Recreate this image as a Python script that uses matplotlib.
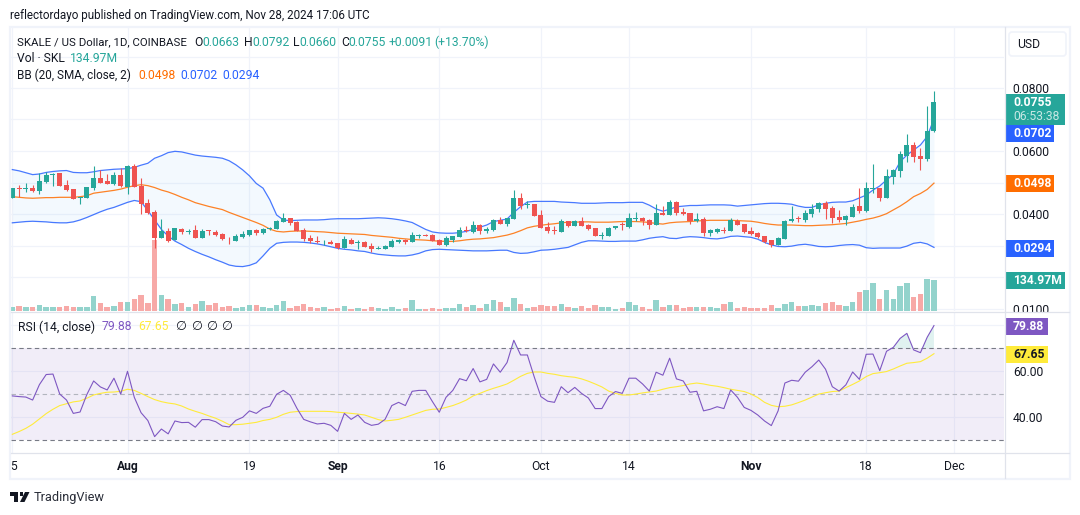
import matplotlib
matplotlib.use("Agg")

import matplotlib.pyplot as plt
import numpy as np
from matplotlib.patches import FancyBboxPatch, Polygon, Rectangle

plt.rcParams["font.family"] = ["Roboto", "DejaVu Sans"]

# OHLC and Bollinger values, in 0.0001 price steps (Jul 15 to Nov 28)
PRICE_STEP = 0.0001

opens = [452, 482, 480, 483, 473, 503, 525, 530, 492, 478,
         451, 452, 483, 514, 505, 494, 524, 487, 552, 490,
         434, 406, 325, 346, 316, 353, 343, 349, 325, 348,
         344, 337, 322, 315, 327, 332, 349, 340, 352, 353,
         376, 387, 375, 348, 325, 314, 313, 311, 308, 292,
         318, 307, 311, 298, 290, 290, 295, 311, 318, 311,
         330, 333, 333, 318, 302, 318, 328, 348, 343, 364,
         346, 349, 381, 368, 385, 451, 428, 432, 397, 359,
         349, 344, 378, 362, 378, 365, 356, 330, 331, 354,
         367, 358, 383, 387, 381, 366, 404, 398, 437, 406,
         402, 377, 384, 340, 343, 350, 347, 378, 368, 346,
         340, 330, 318, 302, 321, 378, 387, 381, 400, 416,
         435, 419, 391, 381, 391, 425, 410, 479, 483, 451,
         518, 537, 584, 619, 584, 575, 663]

highs = [482, 492, 500, 492, 529, 532, 529, 530, 508, 479,
         453, 486, 551, 541, 527, 532, 545, 556, 558, 513,
         447, 413, 383, 355, 355, 355, 351, 364, 351, 349,
         348, 341, 326, 335, 345, 349, 353, 355, 358, 381,
         403, 387, 378, 355, 333, 329, 318, 318, 308, 330,
         324, 316, 314, 308, 300, 301, 320, 322, 320, 343,
         338, 337, 337, 321, 329, 330, 360, 362, 378, 367,
         360, 383, 391, 388, 476, 467, 442, 432, 413, 375,
         363, 383, 378, 380, 391, 367, 357, 342, 360, 363,
         374, 404, 405, 390, 384, 431, 425, 444, 441, 419,
         403, 403, 391, 352, 356, 359, 387, 384, 368, 359,
         343, 330, 318, 327, 381, 425, 394, 413, 432, 438,
         441, 425, 413, 397, 432, 483, 502, 559, 483, 543,
         543, 600, 654, 629, 610, 743, 792]

lows = [452, 455, 471, 471, 463, 499, 489, 490, 473, 448,
        433, 452, 476, 498, 495, 492, 487, 463, 487, 401,
        399, 293, 325, 312, 316, 337, 337, 325, 325, 333,
        330, 319, 305, 315, 325, 330, 333, 337, 349, 352,
        376, 365, 346, 314, 309, 309, 301, 305, 289, 292,
        305, 289, 294, 279, 289, 289, 294, 308, 306, 311,
        324, 330, 313, 302, 298, 312, 327, 343, 341, 338,
        341, 347, 368, 362, 384, 417, 419, 395, 355, 341,
        335, 344, 359, 362, 362, 349, 330, 321, 331, 352,
        349, 356, 378, 366, 352, 366, 397, 398, 398, 398,
        369, 375, 331, 331, 340, 340, 346, 365, 341, 333,
        324, 309, 295, 302, 321, 375, 375, 375, 391, 406,
        384, 371, 375, 365, 391, 403, 406, 467, 441, 451,
        495, 518, 565, 565, 540, 568, 660]

closes = [482, 479, 483, 473, 504, 524, 528, 490, 476, 449,
          453, 486, 514, 499, 495, 524, 489, 552, 487, 433,
          404, 325, 345, 314, 355, 343, 346, 325, 346, 345,
          333, 321, 320, 330, 337, 348, 340, 352, 355, 378,
          387, 371, 347, 321, 314, 311, 315, 306, 291, 321,
          305, 311, 295, 289, 292, 298, 314, 319, 311, 333,
          332, 330, 313, 303, 323, 330, 349, 346, 364, 346,
          351, 381, 368, 387, 451, 425, 431, 395, 357, 346,
          347, 378, 362, 378, 363, 352, 331, 332, 355, 362,
          365, 387, 386, 378, 366, 403, 397, 437, 402, 400,
          378, 384, 340, 349, 352, 347, 381, 365, 343, 337,
          328, 312, 302, 324, 378, 384, 384, 403, 416, 435,
          416, 387, 381, 394, 422, 410, 483, 484, 451, 521,
          540, 591, 619, 581, 575, 664, 755]

volumes = [17.4, 21.8, 17.4, 17.4, 26.1, 17.4, 17.4, 17.4, 21.8, 17.4,
           17.4, 17.4, 65.3, 34.8, 17.4, 21.8, 39.2, 39.2, 52.2, 69.7,
           34.8, 309.0, 69.7, 52.2, 30.5, 34.8, 17.4, 30.5, 43.5, 26.1,
           34.8, 17.4, 21.8, 13.1, 17.4, 26.1, 26.1, 17.4, 13.1, 26.1,
           43.5, 13.1, 21.8, 30.5, 17.4, 13.1, 17.4, 8.7, 13.1, 21.8,
           8.7, 13.1, 8.7, 17.4, 13.1, 8.7, 17.4, 8.7, 13.1, 47.9,
           8.7, 8.7, 13.1, 8.7, 13.1, 13.1, 30.5, 17.4, 26.1, 13.1,
           30.5, 47.9, 39.2, 17.4, 56.6, 30.5, 13.1, 17.4, 26.1, 21.8,
           21.8, 30.5, 17.4, 13.1, 21.8, 13.1, 26.1, 17.4, 17.4, 8.7,
           13.1, 39.2, 26.1, 17.4, 8.7, 47.9, 17.4, 26.1, 26.1, 13.1,
           17.4, 17.4, 17.4, 17.4, 13.1, 30.5, 39.2, 13.1, 17.4, 13.1,
           13.1, 13.1, 26.1, 13.1, 30.5, 39.2, 21.8, 21.8, 26.1, 21.8,
           34.8, 39.2, 26.1, 21.8, 39.2, 82.7, 91.4, 121.9, 52.2, 91.4,
           52.2, 108.8, 121.9, 60.9, 74.0, 139.3, 134.97]

bb_upper = [541, 537, 531, 525, 527, 532, 535, 537, 538, 532,
            531, 531, 534, 538, 540, 542, 543, 544, 548, 555,
            561, 577, 585, 595, 599, 597, 592, 587, 584, 582,
            580, 577, 569, 556, 540, 521, 497, 482, 445, 397,
            381, 379, 380, 381, 381, 381, 382, 384, 385, 385,
            385, 385, 386, 387, 388, 387, 385, 382, 378, 373,
            362, 351, 343, 340, 339, 339, 341, 345, 351, 358,
            365, 376, 380, 384, 405, 423, 438, 440, 440, 440,
            440, 438, 437, 436, 434, 434, 434, 435, 436, 436,
            436, 437, 437, 437, 428, 416, 409, 415, 423, 425,
            427, 427, 428, 429, 429, 429, 428, 425, 427, 429,
            431, 433, 434, 434, 433, 431, 425, 421, 421, 429,
            434, 437, 438, 438, 442, 451, 460, 476, 489, 508,
            526, 566, 587, 603, 619, 646, 702]

bb_mid = [455, 453, 451, 450, 451, 452, 452, 453, 453, 453,
          455, 458, 466, 469, 472, 475, 479, 485, 490, 493,
          490, 484, 476, 470, 462, 453, 445, 436, 430, 424,
          419, 414, 405, 397, 389, 381, 373, 364, 352, 345,
          343, 345, 346, 346, 345, 344, 343, 341, 339, 338,
          337, 336, 335, 332, 330, 328, 326, 323, 321, 319,
          318, 317, 315, 314, 313, 313, 315, 318, 320, 321,
          323, 325, 329, 333, 339, 347, 356, 361, 364, 367,
          369, 372, 374, 374, 375, 375, 374, 374, 374, 375,
          376, 376, 376, 375, 373, 370, 368, 372, 374, 375,
          376, 378, 379, 380, 380, 380, 380, 379, 378, 377,
          374, 370, 367, 365, 365, 365, 364, 363, 363, 364,
          365, 366, 368, 370, 374, 378, 383, 387, 393, 401,
          413, 425, 439, 455, 465, 478, 498]

bb_lower = [372, 374, 376, 377, 376, 375, 373, 372, 372, 375,
            381, 389, 398, 407, 415, 421, 429, 437, 443, 439,
            411, 381, 351, 330, 314, 303, 291, 281, 272, 264,
            255, 247, 238, 234, 233, 237, 245, 267, 291, 307,
            310, 311, 311, 310, 308, 305, 301, 296, 291, 288,
            286, 283, 281, 276, 272, 270, 268, 267, 267, 270,
            275, 283, 287, 288, 287, 286, 285, 284, 283, 283,
            283, 284, 285, 285, 278, 275, 276, 280, 285, 286,
            288, 291, 294, 302, 310, 315, 315, 314, 313, 313,
            314, 314, 314, 318, 323, 326, 328, 323, 322, 326,
            328, 327, 325, 322, 321, 324, 329, 330, 328, 326,
            320, 310, 302, 297, 296, 298, 302, 304, 301, 297,
            296, 297, 300, 302, 303, 301, 293, 291, 292, 292,
            292, 292, 298, 307, 310, 305, 294]

rsi = [49.3, 49.0, 48.8, 47.5, 54.2, 58.6, 58.8, 50.1, 47.5, 41.7,
       42.3, 49.9, 55.8, 53.2, 51.9, 57.0, 50.1, 60.0, 48.7, 42.0,
       38.6, 31.6, 34.9, 32.8, 38.4, 37.7, 37.8, 35.7, 39.0, 39.0,
       38.1, 36.2, 35.8, 38.7, 40.0, 42.8, 41.7, 43.9, 44.8, 50.0,
       51.7, 49.6, 43.9, 39.1, 38.0, 37.1, 37.4, 36.5, 33.9, 41.7,
       39.1, 41.0, 37.8, 36.5, 37.0, 39.1, 45.1, 46.5, 45.1, 51.3,
       51.7, 51.7, 46.8, 42.2, 48.7, 51.7, 56.8, 55.9, 61.2, 55.4,
       56.5, 63.2, 59.6, 63.8, 73.5, 67.1, 67.1, 57.7, 49.0, 47.0,
       46.5, 53.3, 50.7, 53.0, 50.4, 48.4, 43.8, 43.8, 49.0, 51.2,
       50.4, 57.0, 57.0, 54.5, 51.4, 59.6, 58.3, 65.7, 56.7, 55.8,
       50.9, 51.3, 42.8, 43.5, 44.6, 43.8, 51.9, 48.7, 44.3, 43.0,
       41.0, 38.4, 36.4, 42.8, 54.9, 56.1, 55.7, 59.6, 62.0, 64.9,
       60.9, 53.3, 51.4, 54.1, 59.7, 56.5, 67.4, 67.5, 60.3, 68.7,
       70.4, 74.3, 76.5, 69.3, 68.1, 74.8, 79.88]

rsi_ma = [32.6, 33.8, 35.2, 37.0, 39.3, 41.6, 43.5, 45.1, 45.9, 46.7,
          47.1, 48.3, 49.7, 50.4, 50.9, 51.0, 51.3, 52.2, 51.7, 50.4,
          49.0, 47.7, 46.8, 46.2, 45.8, 44.9, 43.6, 42.6, 41.7, 40.6,
          39.6, 38.3, 36.8, 36.8, 37.0, 37.4, 37.8, 38.6, 39.1, 40.0,
          41.3, 42.2, 42.5, 42.6, 42.6, 42.6, 42.6, 42.5, 42.2, 42.0,
          41.7, 41.4, 41.0, 40.0, 39.0, 38.4, 38.7, 39.1, 40.0, 41.0,
          42.0, 43.0, 43.5, 43.6, 44.3, 45.1, 46.2, 47.5, 49.3, 50.4,
          51.6, 52.6, 53.5, 54.5, 56.1, 57.8, 59.1, 59.7, 59.7, 59.1,
          58.7, 58.1, 57.7, 57.4, 56.7, 55.7, 54.5, 53.2, 51.4, 50.4,
          49.7, 49.7, 50.1, 50.6, 51.0, 51.4, 52.2, 52.9, 53.3, 53.8,
          54.5, 54.9, 54.5, 53.9, 53.5, 52.9, 52.2, 51.7, 51.2, 50.1,
          48.6, 46.5, 45.2, 44.6, 44.8, 45.4, 46.4, 47.5, 48.8, 50.1,
          50.7, 51.2, 51.4, 52.9, 54.3, 55.8, 57.7, 59.0, 59.4, 59.9,
          61.0, 62.3, 63.5, 63.8, 64.2, 65.7, 67.65]

# day offsets from Jul 15 and the labels on the date axis
date_ticks = [0, 17, 35, 48, 63, 78, 91, 109, 126, 139]
date_labels = ["15", "Aug", "19", "Sep", "16", "Oct", "14", "Nov", "18", "Dec"]
month_labels = ["Aug", "Sep", "Nov"]

price_ticks = [0.01, 0.02, 0.03, 0.04, 0.05, 0.06, 0.07, 0.08, 0.09]
price_labels = ["0.0100", "", "", "0.0400", "", "0.0600", "", "0.0800", ""]
rsi_ticks = [40, 60, 80]
rsi_labels = ["40.00", "60.00", ""]

GREEN = "#26a69a"
RED = "#ef5350"
BLUE = "#2962ff"
ORANGE = "#ff6d00"
PURPLE = "#7e57c2"
YELLOW = "#ffeb3b"
TEXT = "#131722"
GRID = "#f0f3fa"
BORDER = "#e0e3eb"

W, H = 1080, 515
LEFT, RIGHT = 11, 1004
PRICE_TOP, PRICE_BOTTOM = 27, 311
RSI_TOP, RSI_BOTTOM = 312, 452.5


def pane_rect(top, bottom):
    return [LEFT / W, 1 - bottom / H, (RIGHT - LEFT) / W, (bottom - top) / H]


def main():
    o = np.array(opens) * PRICE_STEP
    h = np.array(highs) * PRICE_STEP
    l = np.array(lows) * PRICE_STEP
    c = np.array(closes) * PRICE_STEP
    vol = np.array(volumes)
    x = np.arange(len(c))
    up = c >= o
    colors = [GREEN if u else RED for u in up]
    vol_colors = ["#93d3cc" if u else "#f7a9a7" for u in up]

    fig = plt.figure(figsize=(W / 100, H / 100), dpi=100, facecolor="white")

    # x range: one day is 6.777 px, Jul 15 sits at 12.3 px
    xlim = ((LEFT - 12.3) / 6.777, (RIGHT - 12.3) / 6.777)
    ylim = (0.08 - (PRICE_BOTTOM - 88) / 3150, 0.08 + (88 - PRICE_TOP) / 3150)

    # grid and price labels sit on their own axes, under the volume bars
    ax_grid = fig.add_axes(pane_rect(PRICE_TOP, PRICE_BOTTOM), zorder=0)
    ax_grid.set_xlim(xlim)
    ax_grid.set_ylim(ylim)
    ax_grid.set_xticks(date_ticks)
    ax_grid.set_xticklabels([])
    ax_grid.set_yticks(price_ticks)
    ax_grid.set_yticklabels(price_labels, fontsize=8.7, color=TEXT)
    ax_grid.yaxis.tick_right()
    ax_grid.tick_params(length=0, pad=6.3)
    ax_grid.grid(True, color=GRID, linewidth=0.9)
    ax_grid.set_axisbelow(True)
    for spine in ax_grid.spines.values():
        spine.set_visible(False)

    # volume bars
    ax_vol = fig.add_axes(pane_rect(PRICE_TOP, PRICE_BOTTOM), zorder=1)
    ax_vol.patch.set_alpha(0)
    ax_vol.set_xlim(xlim)
    ax_vol.set_ylim(0, 134.97 * (PRICE_BOTTOM - PRICE_TOP) / 31)
    ax_vol.bar(x, vol, width=0.8, color=vol_colors, linewidth=0)
    ax_vol.axis("off")

    # Bollinger bands and candles
    ax = fig.add_axes(pane_rect(PRICE_TOP, PRICE_BOTTOM), zorder=2)
    ax.patch.set_alpha(0)
    ax.set_xlim(xlim)
    ax.set_ylim(ylim)
    upper = np.array(bb_upper) * PRICE_STEP
    mid = np.array(bb_mid) * PRICE_STEP
    lower = np.array(bb_lower) * PRICE_STEP
    ax.fill_between(x, lower, upper, color="#2196f3", alpha=0.05, linewidth=0)
    ax.plot(x, upper, color=BLUE, linewidth=0.9, alpha=0.85)
    ax.plot(x, lower, color=BLUE, linewidth=0.9, alpha=0.85)
    ax.plot(x, mid, color=ORANGE, linewidth=0.9, alpha=0.85)
    ax.vlines(x, l, h, colors=colors, linewidth=0.8, zorder=3)
    ax.bar(x, np.abs(c - o), bottom=np.minimum(o, c), width=0.74,
           color=colors, linewidth=0, zorder=4)
    ax.axis("off")

    # RSI pane
    ax_rsi = fig.add_axes(pane_rect(RSI_TOP, RSI_BOTTOM), zorder=2)
    ax_rsi.set_xlim(xlim)
    ax_rsi.set_ylim(40 - (RSI_BOTTOM - 417.3) / 2.3, 40 + (417.3 - RSI_TOP) / 2.3)
    ax_rsi.axhspan(30, 70, color=PURPLE, alpha=0.1, linewidth=0)
    ax_rsi.set_xticks(date_ticks)
    ax_rsi.set_xticklabels(date_labels, fontsize=8.7, color=TEXT)
    for lbl in ax_rsi.get_xticklabels():
        if lbl.get_text() in month_labels:
            lbl.set_fontweight("bold")
    ax_rsi.set_yticks(rsi_ticks)
    ax_rsi.set_yticklabels(rsi_labels, fontsize=8.7, color=TEXT)
    ax_rsi.yaxis.tick_right()
    ax_rsi.tick_params(axis="y", length=0, pad=6.3)
    ax_rsi.tick_params(axis="x", length=0, pad=5.6)
    ax_rsi.grid(True, color=GRID, linewidth=0.9)
    ax_rsi.set_axisbelow(True)
    for spine in ax_rsi.spines.values():
        spine.set_visible(False)
    ax_rsi.axhline(70, color="#787b86", linewidth=0.8, dashes=(4, 3))
    ax_rsi.axhline(50, color="#b2b5be", linewidth=0.8, dashes=(4, 3))
    ax_rsi.axhline(30, color="#787b86", linewidth=0.8, dashes=(4, 3))
    rsi_arr = np.array(rsi)
    ax_rsi.fill_between(x, 70, rsi_arr, where=rsi_arr > 70, interpolate=True,
                        color=GREEN, alpha=0.14, linewidth=0)
    ax_rsi.plot(x, rsi_ma, color=YELLOW, linewidth=0.8)
    ax_rsi.plot(x, rsi, color=PURPLE, linewidth=0.8)

    # overlay in pixel coordinates for frame, header texts and price badges
    ov = fig.add_axes([0, 0, 1, 1], zorder=5)
    ov.set_xlim(0, W)
    ov.set_ylim(H, 0)
    ov.axis("off")

    ov.add_patch(Rectangle((0, 452), 10, 28, color="white", linewidth=0))
    ov.add_patch(Rectangle((1005, 312.5), 64, 8, color="white", linewidth=0))
    ov.add_patch(Rectangle((10, 26.5), 1060, 452.5, fill=False, edgecolor=GRID, linewidth=1.6))
    ov.plot([1004.5, 1004.5], [27, 478], color=BORDER, linewidth=0.9)
    ov.plot([11, 1069], [311.5, 311.5], color=BORDER, linewidth=0.9)
    ov.plot([11, 1069], [452.5, 452.5], color=BORDER, linewidth=0.9)

    def label(px, py, s, color=TEXT, size=8.7, **kw):
        ov.text(px, py, s, color=color, fontsize=size, va="center", ha=kw.pop("ha", "left"), **kw)

    label(10, 15, "reflectordayo published on TradingView.com, Nov 28, 2024 17:06 UTC", size=8.42)

    # legend rows
    change = c[-1] - c[-2]
    label(17, 42, "SKALE / US Dollar, 1D, COINBASE", size=8.2)
    label(194, 42, "O")
    label(202, 42, f"{o[-1]:.4f}", GREEN)
    label(244, 42, "H")
    label(252, 42, f"{h[-1]:.4f}", GREEN)
    label(293, 42, "L")
    label(299, 42, f"{l[-1]:.4f}", GREEN)
    label(341, 42, "C")
    label(348, 42, f"{c[-1]:.4f}", GREEN)
    label(389, 42, f"{change:+.4f}", GREEN)
    label(434, 42, f"({change / c[-2] * 100:+.2f}%)", GREEN)
    label(17, 59, "Vol · SKL")
    label(70, 59, f"{vol[-1]:.2f}M", GREEN)
    label(17, 75.5, "BB (20, SMA, close, 2)", size=8.5)
    label(138, 75.5, f"{mid[-1]:.4f}", ORANGE)
    label(180, 75.5, f"{upper[-1]:.4f}", BLUE)
    label(222, 75.5, f"{lower[-1]:.4f}", BLUE)
    label(18, 327, "RSI (14, close)")
    label(102, 327, f"{rsi[-1]:.2f}", PURPLE)
    label(138, 327, f"{rsi_ma[-1]:.2f}", YELLOW)
    for px in [175.5, 191, 206, 221]:
        label(px, 327, "∅", family=["DejaVu Sans"], size=9)

    # USD button
    ov.add_patch(FancyBboxPatch((1009, 32), 57, 24, boxstyle="round,pad=0,rounding_size=3",
                                facecolor="white", edgecolor=GRID, linewidth=1.2))
    label(1017, 44.5, "USD")

    # price scale badges
    def badge(top, bottom, right, color):
        ov.add_patch(Rectangle((1005, top), right - 1005, bottom - top, color=color, linewidth=0))

    badge(94, 125, 1065, GREEN)
    label(1013, 103, f"{c[-1]:.4f}", "white", weight="bold")
    label(1013, 116, "06:53:38", "#c8e8e4")
    badge(125, 142, 1054, BLUE)
    label(1013, 133.5, f"{upper[-1]:.4f}", "white", weight="bold")
    badge(175, 192, 1054, ORANGE)
    label(1013, 183.5, f"{mid[-1]:.4f}", "white", weight="bold")
    badge(240, 257, 1054, BLUE)
    label(1013, 248.5, f"{lower[-1]:.4f}", "white", weight="bold")
    badge(272, 289, 1065, GREEN)
    label(1013, 280.5, f"{vol[-1]:.2f}M", "white", weight="bold")
    badge(318, 335, 1048, PURPLE)
    label(1013, 326.5, f"{rsi[-1]:.2f}", "white", weight="bold")
    badge(346, 363, 1048, YELLOW)
    label(1013, 354.5, f"{rsi_ma[-1]:.2f}", TEXT, weight="bold")

    # footer logo and name
    logo = "#131722"
    ov.add_patch(Polygon([(10, 492), (18, 492), (18, 502), (14, 502), (14, 496), (10, 496)],
                         color=logo, linewidth=0))
    ov.add_patch(Polygon([(19.5, 492), (23, 492), (23, 495.5), (19.5, 495.5)], color=logo, linewidth=0))
    ov.add_patch(Polygon([(25, 492), (29.5, 492), (24.5, 502), (20, 502)], color=logo, linewidth=0))
    label(33.5, 497, "TradingView", size=9.2, color="#2a2e39")

    fig.savefig("out.png", dpi=100)
    plt.close(fig)


if __name__ == "__main__":
    main()
